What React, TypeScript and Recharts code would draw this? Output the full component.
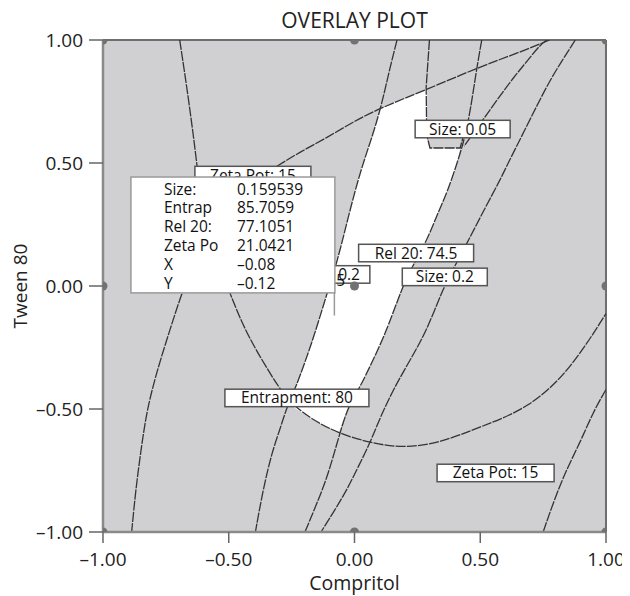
import React from 'react';
import {
  ComposedChart,
  CartesianGrid,
  XAxis,
  YAxis,
  Line,
  Scatter,
  ReferenceArea,
  ReferenceLine,
} from 'recharts';

const FONT = '"Open Sans", "Noto Sans", sans-serif';

// ---------- axes ----------
const xTicks = [-1, -0.5, 0, 0.5, 1];
const yTicks = [-1, -0.5, 0, 0.5, 1];

// ---------- design points ----------
const designPoints = [
  { x: -1, y: 1 }, { x: 0, y: 1 }, { x: 1, y: 1 },
  { x: -1, y: 0 }, { x: 0, y: 0 }, { x: 1, y: 0 },
  { x: -1, y: -1 }, { x: 0, y: -1 }, { x: 1, y: -1 },
];

// ---------- contour curves (Compritol x, Tween 80 y) ----------
const zetaPotContour = [
  { x: 0.776, y: 1.0 }, { x: 0.659, y: 0.951 }, { x: 0.486, y: 0.886 },
  { x: 0.293, y: 0.801 }, { x: 0.103, y: 0.724 }, { x: -0.006, y: 0.667 },
  { x: -0.111, y: 0.602 }, { x: -0.217, y: 0.545 }, { x: -0.312, y: 0.484 },
  { x: -0.404, y: 0.427 }, { x: -0.476, y: 0.362 }, { x: -0.527, y: 0.268 },
  { x: -0.539, y: 0.146 }, { x: -0.523, y: 0.045 }, { x: -0.496, y: -0.028 },
  { x: -0.436, y: -0.179 }, { x: -0.368, y: -0.301 }, { x: -0.3, y: -0.415 },
  { x: -0.245, y: -0.484 }, { x: -0.165, y: -0.545 }, { x: -0.066, y: -0.598 },
  { x: 0.062, y: -0.638 }, { x: 0.193, y: -0.659 }, { x: 0.34, y: -0.638 },
  { x: 0.5, y: -0.573 }, { x: 0.695, y: -0.496 }, { x: 0.858, y: -0.341 },
  { x: 1.0, y: -0.112 },
];

const leftContour = [
  { x: -0.695, y: 1.0 }, { x: -0.659, y: 0.756 }, { x: -0.623, y: 0.472 },
  { x: -0.611, y: 0.329 }, { x: -0.619, y: 0.187 }, { x: -0.647, y: 0.065 },
  { x: -0.687, y: -0.028 }, { x: -0.734, y: -0.179 }, { x: -0.782, y: -0.333 },
  { x: -0.826, y: -0.504 }, { x: -0.85, y: -0.675 }, { x: -0.87, y: -0.829 },
  { x: -0.886, y: -1.0 },
];

const rel20Contour = [
  { x: 0.169, y: 1.0 }, { x: 0.137, y: 0.87 }, { x: 0.105, y: 0.724 },
  { x: 0.066, y: 0.593 }, { x: 0.022, y: 0.463 }, { x: -0.026, y: 0.276 },
  { x: -0.07, y: 0.093 }, { x: -0.109, y: -0.028 }, { x: -0.165, y: -0.22 },
  { x: -0.237, y: -0.423 }, { x: -0.269, y: -0.492 }, { x: -0.297, y: -0.585 },
  { x: -0.328, y: -0.675 }, { x: -0.364, y: -0.829 }, { x: -0.394, y: -1.0 },
];

const size005Contour = [
  { x: 0.298, y: 1.0 }, { x: 0.285, y: 0.809 }, { x: 0.287, y: 0.614 },
  { x: 0.3, y: 0.561 }, { x: 0.42, y: 0.561 }, { x: 0.431, y: 0.602 },
];

const size02Contour = [
  { x: 0.506, y: 1.0 }, { x: 0.486, y: 0.886 }, { x: 0.46, y: 0.707 },
  { x: 0.436, y: 0.593 }, { x: 0.412, y: 0.512 }, { x: 0.368, y: 0.378 },
  { x: 0.328, y: 0.289 }, { x: 0.289, y: 0.187 }, { x: 0.233, y: 0.085 },
  { x: 0.193, y: 0.004 }, { x: 0.129, y: -0.179 }, { x: 0.074, y: -0.301 },
  { x: 0.022, y: -0.411 }, { x: -0.026, y: -0.492 }, { x: -0.058, y: -0.598 },
  { x: -0.086, y: -0.699 }, { x: -0.117, y: -0.801 }, { x: -0.157, y: -0.902 },
  { x: -0.197, y: -1.0 },
];

const upperRightContour = [
  { x: 0.765, y: 1.0 }, { x: 0.738, y: 0.98 }, { x: 0.687, y: 0.915 },
  { x: 0.631, y: 0.846 }, { x: 0.575, y: 0.768 }, { x: 0.519, y: 0.687 },
  { x: 0.468, y: 0.614 }, { x: 0.436, y: 0.569 },
];

const entrapContour = [
  { x: 0.878, y: 1.0 }, { x: 0.822, y: 0.911 }, { x: 0.766, y: 0.817 },
  { x: 0.687, y: 0.654 }, { x: 0.607, y: 0.492 }, { x: 0.579, y: 0.431 },
  { x: 0.519, y: 0.317 }, { x: 0.46, y: 0.199 }, { x: 0.412, y: 0.106 },
  { x: 0.352, y: -0.008 }, { x: 0.289, y: -0.179 }, { x: 0.221, y: -0.301 },
  { x: 0.153, y: -0.423 }, { x: 0.101, y: -0.537 }, { x: 0.062, y: -0.638 },
  { x: 0.014, y: -0.736 }, { x: -0.03, y: -0.829 }, { x: -0.081, y: -0.915 },
  { x: -0.133, y: -1.0 },
];

const lowerRightContour = [
  { x: 1.0, y: -0.421 }, { x: 0.949, y: -0.512 }, { x: 0.898, y: -0.634 },
  { x: 0.842, y: -0.748 }, { x: 0.794, y: -0.87 }, { x: 0.75, y: -1.0 },
];

// ---------- feasible (white) region ----------
const feasibleRegion = [
  { x: 0.103, y: 0.724 }, { x: 0.197, y: 0.762 }, { x: 0.289, y: 0.801 },
  { x: 0.287, y: 0.614 }, { x: 0.3, y: 0.561 }, { x: 0.42, y: 0.561 },
  { x: 0.412, y: 0.512 }, { x: 0.368, y: 0.378 }, { x: 0.328, y: 0.289 },
  { x: 0.289, y: 0.187 }, { x: 0.233, y: 0.085 }, { x: 0.193, y: 0.004 },
  { x: 0.129, y: -0.179 }, { x: 0.074, y: -0.301 }, { x: 0.022, y: -0.411 },
  { x: -0.026, y: -0.492 }, { x: -0.062, y: -0.593 }, { x: -0.165, y: -0.545 },
  { x: -0.261, y: -0.48 }, { x: -0.237, y: -0.423 }, { x: -0.165, y: -0.22 },
  { x: -0.109, y: -0.028 }, { x: -0.07, y: 0.093 }, { x: -0.026, y: 0.276 },
  { x: 0.022, y: 0.463 }, { x: 0.066, y: 0.593 },
];

// ---------- contour labels (anchor = label centre) ----------
const contourLabels = [
  { text: 'Zeta Pot: 15', x: -0.404, y: 0.451, kind: 'box' },
  { text: 'Size: 0.2', x: -0.094, y: 0.047, kind: 'box' },
  { text: 'Rel 20: 74.5', x: -0.202, y: 0.022, kind: 'text' },
  { text: 'Size: 0.05', x: 0.43, y: 0.638, kind: 'box' },
  { text: 'Rel 20: 74.5', x: 0.245, y: 0.134, kind: 'box' },
  { text: 'Size: 0.2', x: 0.359, y: 0.037, kind: 'box' },
  { text: 'Entrapment: 80', x: -0.229, y: -0.455, kind: 'box' },
  { text: 'Zeta Pot: 15', x: 0.561, y: -0.76, kind: 'box' },
];
const labelBoxWidths = [116, 78, 0, 95, 115, 85, 144, 117];

// ---------- flag (prediction box) ----------
const flagPoint = { x: -0.08, y: -0.12 };
const flagBox = { x1: -0.889, x2: -0.078, y1: -0.028, y2: 0.443 };
const flagRows = [
  ['Size:', '0.159539'],
  ['Entrap', '85.7059'],
  ['Rel 20:', '77.1051'],
  ['Zeta Po', '21.0421'],
  ['X', '\u20130.08'],
  ['Y', '\u20130.12'],
];

const fmt = (v: number) => (v < 0 ? '\u2013' + Math.abs(v).toFixed(2) : v.toFixed(2));

const LINE_COLOR = '#333333';
const PLOT_FILL = '#d0d0d2';

const LabelShape = (props: any) => {
  const { cx, cy, payload, index } = props;
  if (cx == null || cy == null) return <g />;
  const w = labelBoxWidths[index] ?? 100;
  const h = 17.5;
  return (
    <g>
      {payload.kind === 'box' && (
        <rect x={cx - w / 2} y={cy - h / 2} width={w} height={h} fill="#ffffff" stroke="#555" strokeWidth={1.5} />
      )}
      <text x={cx} y={cy + 5.5} textAnchor="middle" fontSize={15.5} fontFamily={FONT} fill="#111">
        {payload.text}
      </text>
    </g>
  );
};

const DotShape = (props: any) => {
  const { cx, cy } = props;
  if (cx == null || cy == null) return <g />;
  return <circle cx={cx} cy={cy} r={4.5} fill="#727272" />;
};

const FlagShape = (props: any) => {
  const { x, y, width, height } = props;
  return (
    <g>
      <rect x={x} y={y} width={width} height={height} fill="#ffffff" stroke="#9a9a9a" strokeWidth={1.5} />
      {flagRows.map((r, i) => (
        <g key={i}>
          <text x={x + 33} y={y + 17.5 + i * 18.8} fontSize={15.5} fontFamily={FONT} fill="#111">{r[0]}</text>
          <text x={x + 106} y={y + 17.5 + i * 18.8} fontSize={15.5} fontFamily={FONT} fill="#111">{r[1]}</text>
        </g>
      ))}
    </g>
  );
};

const RegionFill = (props: any) => {
  const pts = (props.points || []).map((p: any) => `${p.x},${p.y}`).join(' ');
  return <polygon points={pts} fill="#ffffff" stroke="none" />;
};

const YTitle = (props: any) => {
  const vb = props.viewBox || { x: 0, y: 0, width: 0, height: 0 };
  const cx = vb.x + 12;
  const cy = vb.y + vb.height / 2;
  return (
    <text x={cx} y={cy} transform={`rotate(-90 ${cx} ${cy})`} textAnchor="middle" dominantBaseline="central"
      fontSize={19} fontFamily={FONT} fill="#222">Tween 80</text>
  );
};

const XTitle = (props: any) => {
  const vb = props.viewBox || { x: 0, y: 0, width: 0, height: 0 };
  return (
    <text x={vb.x + vb.width / 2} y={vb.y + vb.height - 6} textAnchor="middle"
      fontSize={19.5} fontFamily={FONT} fill="#222">Compritol</text>
  );
};

const tickStyle = { fontSize: 19, fontFamily: FONT, fill: '#222' };

export default function App() {
  const curves: { key: string; data: { x: number; y: number }[]; type: any }[] = [
    { key: 'zeta', data: zetaPotContour, type: 'basis' },
    { key: 'left', data: leftContour, type: 'basis' },
    { key: 'rel20', data: rel20Contour, type: 'basis' },
    { key: 'size005', data: size005Contour, type: 'linear' },
    { key: 'size02', data: size02Contour, type: 'basis' },
    { key: 'upperRight', data: upperRightContour, type: 'basis' },
    { key: 'entrap', data: entrapContour, type: 'basis' },
    { key: 'lowerRight', data: lowerRightContour, type: 'basis' },
  ];
  return (
    <div style={{ position: 'relative', width: 622, height: 588 }}>
      <ComposedChart width={622} height={588} margin={{ top: 32, right: 24, bottom: 0, left: 0 }}>
        <CartesianGrid horizontal={false} vertical={false} fill={PLOT_FILL} />
        <XAxis
          type="number"
          dataKey="x"
          domain={[-1, 1]}
          ticks={xTicks}
          allowDataOverflow
          tickFormatter={fmt}
          tick={tickStyle}
          tickSize={11}
          tickMargin={10}
          height={64}
          axisLine={{ stroke: '#8a8a8a', strokeWidth: 2.5 }}
          tickLine={{ stroke: '#666', strokeWidth: 1.5 }}
          label={<XTitle />}
        />
        <YAxis
          type="number"
          dataKey="y"
          domain={[-1, 1]}
          ticks={yTicks}
          allowDataOverflow
          tickFormatter={fmt}
          tick={tickStyle}
          tickSize={14}
          tickMargin={6}
          width={95}
          axisLine={{ stroke: '#8a8a8a', strokeWidth: 2.5 }}
          tickLine={{ stroke: '#666', strokeWidth: 1.5 }}
          label={<YTitle />}
        />
        <Scatter
          data={feasibleRegion}
          isAnimationActive={false}
          line={RegionFill as any}
          shape={() => <g />}
          zIndex={50}
        />
        <ReferenceLine y={1} stroke="#6e6e6e" strokeWidth={2} zIndex={60} />
        <ReferenceLine x={1} stroke="#6e6e6e" strokeWidth={2} zIndex={60} />
        {curves.map((c) => (
          <Line
            key={c.key}
            data={c.data}
            dataKey="y"
            type={c.type}
            dot={false}
            activeDot={false}
            stroke={LINE_COLOR}
            strokeWidth={1.3}
            strokeDasharray="10 1.2"
            isAnimationActive={false}
            zIndex={400}
          />
        ))}
        <Scatter data={contourLabels} isAnimationActive={false} shape={LabelShape} zIndex={700} />
        <Scatter data={designPoints} isAnimationActive={false} shape={DotShape} zIndex={750} />
        <ReferenceLine
          segment={[{ x: flagPoint.x, y: flagBox.y1 }, { x: flagPoint.x, y: flagPoint.y }]}
          stroke="#9a9a9a"
          strokeWidth={1.5}
          zIndex={780}
        />
        <ReferenceArea
          x1={flagBox.x1}
          x2={flagBox.x2}
          y1={flagBox.y1}
          y2={flagBox.y2}
          shape={FlagShape}
          zIndex={800}
        />
      </ComposedChart>
      <div
        style={{
          position: 'absolute', left: 95, width: 503, top: 2, textAlign: 'center',
          fontFamily: FONT, fontSize: 21, lineHeight: '20px', color: '#222',
        }}
      >
        OVERLAY PLOT
      </div>
    </div>
  );
}
